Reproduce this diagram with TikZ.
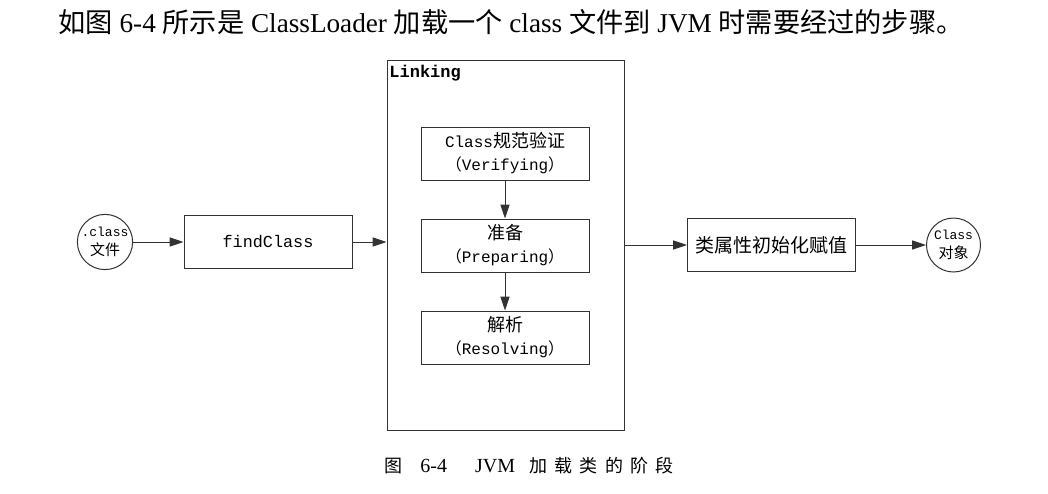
\documentclass[tikz,border=0pt]{standalone}
\usepackage{fontspec}
\setmainfont{Liberation Serif}
\setmonofont{Liberation Mono}
\newfontfamily\cjk{Noto Sans CJK SC}
\newfontfamily\capcjk[LetterSpace=41]{Noto Sans CJK SC}
\usetikzlibrary{arrows.meta,positioning}
\newcommand{\zh}[1]{{\cjk #1}}
\tikzset{
    stepbox/.style={draw=black!80, line width=0.5pt, minimum width=84pt, minimum height=26.5pt, inner sep=0pt, align=center, font=\ttfamily\fontsize{8}{11.5}\selectfont},
    endcircle/.style={draw=black!80, circle, line width=0.5pt, minimum size=27pt, inner sep=0pt, align=center, font=\ttfamily\fontsize{6.5}{9.5}\selectfont},
    linkframe/.style={draw=black!80, line width=0.5pt, minimum width=118.5pt, minimum height=185pt, inner sep=0pt},
    flow/.style={-{Triangle[length=7pt, width=4.6pt]}, line width=0.5pt, draw=black!80, fill=black}
}

\begin{document}
\begin{tikzpicture}[x=0.5pt, y=-0.5pt]
  \useasboundingbox (0,0) rectangle (1048,493);

  % Lead-in sentence and caption
  \node[anchor=west, inner sep=0pt, font=\fontsize{13.6}{15}\selectfont] (lead) at (58,22)
    {\zh{如图} 6-4 \zh{所示是} ClassLoader \zh{加载一个} class \zh{文件到} JVM \zh{时需要经过的步骤。}};
  \node[anchor=west, inner sep=0pt, font=\fontsize{10}{11}\selectfont] (caption) at (384,466)
    {{\capcjk\fontsize{9}{11}\selectfont 图}\hspace{9pt}6-4\hspace{14pt}JVM\hspace{7pt}{\capcjk\fontsize{9}{11}\selectfont 加载类的阶段}};

  % Outer stages
  \node[endcircle] (src) at (105,242) {.class\\\zh{\fontsize{7.5}{9.5}\selectfont 文件}};
  \node[stepbox, font=\ttfamily\fontsize{8.4}{11}\selectfont] (find) at (268,242) {findClass};
  \node[linkframe] (linking) at (505.5,245) {};
  \node[anchor=north west, inner sep=0pt, font=\ttfamily\bfseries\fontsize{8.5}{10}\selectfont] (linklabel) at (389,65) {Linking};
  \node[stepbox, font=\fontsize{9.5}{12}\selectfont] (init) at (771.5,245) {\zh{类属性初始化赋值}};
  \node[endcircle] (obj) at (953.5,245) {Class\\\zh{\fontsize{7.5}{9.5}\selectfont 对象}};

  % Linking steps
  \node[stepbox] (verify) at (505,153.5) {Class\zh{\fontsize{9}{11.5}\selectfont 规范验证}\\\zh{（}Verifying\zh{）}};
  \node[stepbox, below=19pt of verify] (prepare) {\zh{\fontsize{9}{11.5}\selectfont 准备}\\\zh{（}Preparing\zh{）}};
  \node[stepbox, below=19pt of prepare] (resolve) {\zh{\fontsize{9}{11.5}\selectfont 解析}\\\zh{（}Resolving\zh{）}};

  % Connectors
  \draw[flow] (src) -- (find);
  \draw[flow] (find.east) -- (find.east -| linking.west);
  \draw[flow] (linking.east |- init.west) -- (init.west);
  \draw[flow] (init) -- (obj);
  \draw[flow] (verify) -- (prepare);
  \draw[flow] (prepare) -- (resolve);

\end{tikzpicture}
\end{document}
